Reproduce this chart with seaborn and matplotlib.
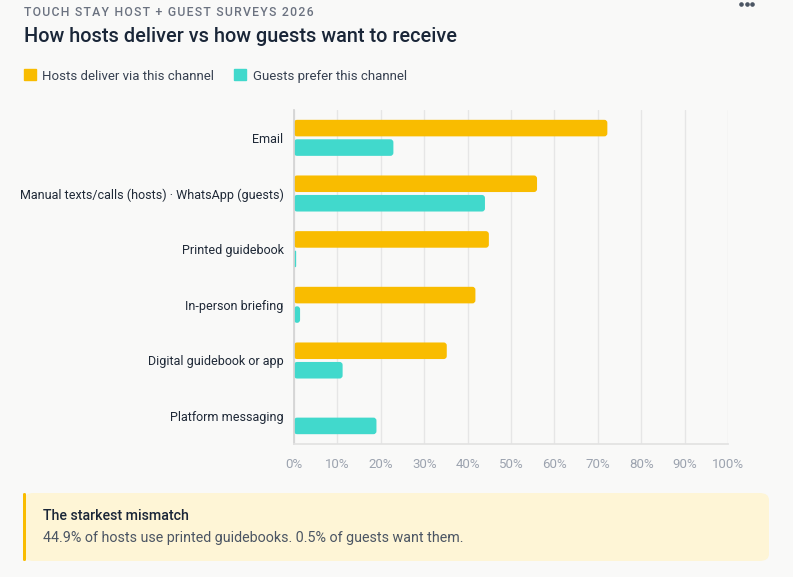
import matplotlib.pyplot as plt
import pandas as pd
import seaborn as sns
from matplotlib.lines import Line2D
from matplotlib.patches import Patch, FancyBboxPatch

channels = ['Email', 'Manual texts/calls (hosts) · WhatsApp (guests)', 'Printed guidebook',
            'In-person briefing', 'Digital guidebook or app', 'Platform messaging']
hosts = [72.2, 56.0, 44.9, 41.8, 35.2, 0.0]
guests = [22.9, 44.0, 0.5, 1.4, 11.2, 19.0]
series = ['Hosts deliver via this channel', 'Guests prefer this channel']
colors = ['#f9bc00', '#41d9cc']
ticks = [0, 10, 20, 30, 40, 50, 60, 70, 80, 90, 100]

df = pd.DataFrame({
    'channel': channels * 2,
    'pct': hosts + guests,
    'series': [series[0]] * len(channels) + [series[1]] * len(channels),
})

bg = '#f9f9f8'
sns.set_theme(style='white')
plt.rcParams['font.family'] = ['Roboto', 'DejaVu Sans']

fig = plt.figure(figsize=(7.93, 5.77), dpi=100, facecolor=bg)
ax = fig.add_axes([294 / 793, 1 - 444 / 577, 434 / 793, 334 / 577])
ax.set_facecolor(bg)

sns.barplot(data=df, y='channel', x='pct', hue='series', palette=colors,
            orient='h', width=0.7, gap=0.15, legend=False, ax=ax, saturation=1)

# round the bar corners
aspect = (1 / 55.6) / (1 / 4.34)
for p in list(ax.patches):
    x, y, w, h = p.get_x(), p.get_y(), p.get_width(), p.get_height()
    fc = p.get_facecolor()
    p.remove()
    if w <= 0:
        continue
    r = min(0.7, w / 2)
    ax.add_patch(FancyBboxPatch((x, y), w, h, boxstyle=f'round,pad=0,rounding_size={r}',
                                mutation_aspect=aspect, facecolor=fc, edgecolor='none'))

ax.set_xlim(0, 100)
ax.set_ylim(5.5, -0.5)
ax.set_xticks(ticks)
ax.set_xticklabels([f'{t}%' for t in ticks], color='#9ca3af', fontsize=9.5)
ax.tick_params(axis='x', length=4, color='#e2e2e2', pad=6)
ax.tick_params(axis='y', length=0, pad=7.5, labelsize=9.0, labelcolor='#1f2937')
ax.set_xlabel('')
ax.set_ylabel('')
ax.grid(axis='x', color='#e6e6e6', linewidth=1)
ax.set_axisbelow(True)
for s in ['top', 'right']:
    ax.spines[s].set_visible(False)
ax.spines['left'].set_color('#d4d4d4')
ax.spines['bottom'].set_color('#e2e2e2')

# header (hair spaces give the letter spacing)
kicker = '\u200a'.join('TOUCH STAY HOST + GUEST SURVEYS 2026')
fig.text(24 / 793, 1 - 12 / 577, kicker, fontsize=8.8,
         color='#6b7280', va='center', ha='left', fontweight='medium')
fig.text(24 / 793, 1 - 37 / 577, 'How hosts deliver vs how guests want to receive', fontsize=14.3,
         color='#1a2638', va='center', ha='left', fontweight='medium')
fig.add_artist(Line2D([741 / 793, 746.5 / 793, 752 / 793], [1 - 4 / 577] * 3,
                      transform=fig.transFigure, marker='o', linestyle='none',
                      markersize=2.3, color='#4b5563'))

handles = [Patch(facecolor=c, edgecolor=c) for c in colors]
ax.legend(handles, series, loc='center left', bbox_to_anchor=(12 / 793, 1 - 76 / 577),
          bbox_transform=fig.transFigure, ncol=2, frameon=False, fontsize=9.5,
          handlelength=0.9, handleheight=0.9, handletextpad=0.5, columnspacing=1.5,
          labelcolor='#374151')

# callout box
box = FancyBboxPatch((24 / 793, 1 - 561 / 577), 745 / 793, 68 / 577,
                     boxstyle='round,pad=0,rounding_size=0.012', transform=fig.transFigure,
                     facecolor='#fef5d6', edgecolor='none')
fig.patches.append(box)
edge = FancyBboxPatch((23 / 793, 1 - 561 / 577), 3 / 793, 68 / 577,
                      boxstyle='round,pad=0,rounding_size=0.002', transform=fig.transFigure,
                      facecolor='#f9bc00', edgecolor='none')
fig.patches.append(edge)
fig.text(43 / 793, 1 - 516 / 577, 'The starkest mismatch', fontsize=10.2, color='#1a2638',
         va='center', ha='left', fontweight='medium')
fig.text(43 / 793, 1 - 538 / 577, '44.9% of hosts use printed guidebooks. 0.5% of guests want them.',
         fontsize=10.3, color='#4b5563', va='center', ha='left')

fig.savefig('out.png', dpi=100, facecolor=bg)
